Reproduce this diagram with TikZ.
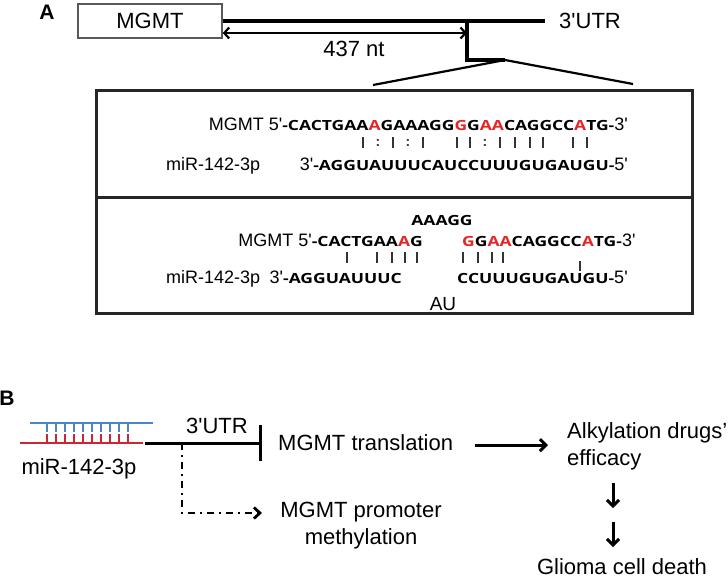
\documentclass[tikz,border=0pt]{standalone}
\usepackage{fontspec}
\setmainfont{Liberation Sans}
\newfontfamily\seqfont[FakeStretch=1.25]{Open Sans}
\usetikzlibrary{arrows.meta}
\definecolor{basered}{RGB}{228,38,38}
\definecolor{mirblue}{RGB}{74,134,200}
\definecolor{mirred}{RGB}{200,40,50}
\newcommand{\pr}{\textquotesingle}
\newcommand{\sq}[1]{{\fontsize{14}{16}\seqfont\bfseries #1}}
\newcommand{\rd}[1]{\textcolor{basered}{#1}}
\tikzset{
  lbl/.style={font=\fontsize{22}{27}\selectfont, inner sep=0pt},
  seqrow/.style={font=\fontsize{18}{20}\selectfont, inner sep=0pt},
  panel/.style={font=\fontsize{21}{22}\selectfont\bfseries, inner sep=0pt},
  genebox/.style={draw=black!65, line width=1.4pt, minimum width=144pt,
    minimum height=34pt, inner sep=0pt, font=\fontsize{22}{26}\selectfont},
  utrline/.style={line width=3.2pt},
  ntarrow/.style={line width=2.2pt,
    {Straight Barb[length=5pt,width=11pt]}-{Straight Barb[length=5pt,width=11pt]}},
  fanline/.style={line width=2.2pt},
  seqbox/.style={line width=3pt, draw=black!85},
  pairbar/.style={line width=1.6pt, black!80},
  colon/.style={font=\fontsize{14}{16}\selectfont\bfseries, inner sep=0pt, text=black!80},
  flow/.style={line width=3pt, -{Straight Barb[length=6pt,width=12pt]}},
  inhib/.style={line width=3pt, -{Bar[width=36pt]}},
  dashdot/.style={line width=2.8pt, dash pattern=on 7pt off 5pt on 2pt off 5pt,
    -{Straight Barb[length=6pt,width=11pt]}}
}
\begin{document}
\begin{tikzpicture}[x=1pt,y=-1pt]
\useasboundingbox (0,0) rectangle (728,579);
% panel A
\node[panel, anchor=base] (pa) at (47,19) {A};
\node[genebox] (mgmtbox) at (150,21) {MGMT};
\coordinate (utrend) at (545,21);
\coordinate (site) at (467,21);
\coordinate (sitelow) at (467,60);
\coordinate (apex) at (505,60);
\coordinate (fanl) at (373,85);
\coordinate (fanr) at (633,84);
\node[lbl, anchor=base west] (utra) at (559,28) {3\pr UTR};
\node[lbl, anchor=base] (nt) at (354,56) {437 nt};
\draw[utrline] (mgmtbox.east) -- (utrend);
\draw[ntarrow] ([yshift=-12pt]mgmtbox.east) -- ([yshift=-12pt]site);
\draw[utrline] (site) -- (sitelow) -- (apex);
\draw[fanline] (fanl) -- (apex) -- (fanr);
\draw[seqbox] (96,90) rectangle (692,313);
\draw[seqbox] (96,197) -- (692,197);
% full site
\node[seqrow, anchor=base east] (mgmta) at (628,130)
  {MGMT 5\pr\sq{-CACTGAA\rd{A}GAAAGG\rd{G}G\rd{AA}CAGGCC\rd{A}TG-}3\pr};
\node[seqrow, anchor=base west] (mira) at (166,170) {miR-142-3p};
\node[seqrow, anchor=base east] (seqmira) at (628,170)
  {3\pr\sq{-AGGUAUUUCAUCCUUUGUGAUGU-}5\pr};
\foreach \x in {363,393,423,457,470,500,515,530,543,573,587}
  \draw[pairbar] (\x,137) -- (\x,148);
\foreach \x in {378,408,485}
  \node[colon] at (\x,142.5) {:};
% mutant site
\node[anchor=base, inner sep=0pt] (loop) at (442,225) {\sq{AAAGG}};
\node[seqrow, anchor=base east] (mgmtb) at (423,246.5)
  {MGMT 5\pr\sq{-CACTGAA\rd{A}G}};
\node[seqrow, anchor=base west] (mgmtc) at (462,246.5)
  {\sq{\rd{G}G\rd{AA}CAGGCC\rd{A}TG-}3\pr};
\node[seqrow, anchor=base west] (mirb) at (166,283.5) {miR-142-3p};
\node[seqrow, anchor=base east] (seqmirb) at (402,283.5) {3\pr\sq{-AGGUAUUUC}};
\node[seqrow, anchor=base west] (seqmirc) at (457,283.5) {\sq{CCUUUGUGAUGU-}5\pr};
\node[font=\fontsize{19}{20}\selectfont, inner sep=0pt, anchor=base] (au) at (443,310) {AU};
\foreach \x in {347,377,392,405,417,463,478,492,503}
  \draw[pairbar] (\x,252) -- (\x,263);
\draw[pairbar] (580,261) -- (580,271);
% panel B
\node[panel, anchor=base] (pb) at (7,405) {B};
\draw[mirblue, line width=2.4pt] (30,423) -- (153,423);
\draw[mirred, line width=2.4pt] (20,443) -- (143,443);
\foreach \x in {47,56,...,128} {
  \draw[mirblue, line width=1.6pt] (\x,423) -- (\x,432);
  \draw[mirred, line width=1.6pt] (\x,434) -- (\x,443);
}
\node[lbl, anchor=base] (mir) at (79,474) {miR-142-3p};
\coordinate (duplexend) at (145,443);
\coordinate (tbar) at (262,443);
\coordinate (branch) at (182,443);
\coordinate (promotip) at (262,513);
\node[lbl, anchor=base] (utrb) at (217,433) {3\pr UTR};
\node[lbl, anchor=base west] (transl) at (278,450) {MGMT translation};
\node[lbl, align=left, anchor=west] (alky) at (567,446.5) {Alkylation drugs'\\efficacy};
\node[lbl, align=center] (promo) at (361,526) {MGMT promoter\\methylation};
\node[lbl, anchor=base] (death) at (622,574) {Glioma cell death};
\draw[inhib] (duplexend) -- (tbar);
\draw[dashdot] (branch) |- (promotip);
\draw[flow, shorten <=22pt, shorten >=19pt] ([yshift=-3pt]transl.east) -- ([yshift=-3pt]transl.east -| alky.west);
\coordinate (down1a) at (613,483);
\coordinate (down1b) at (613,508);
\coordinate (down2a) at (613,522);
\coordinate (down2b) at (613,547);
\draw[flow] (down1a) -- (down1b);
\draw[flow] (down2a) -- (down2b);
\end{tikzpicture}
\end{document}
